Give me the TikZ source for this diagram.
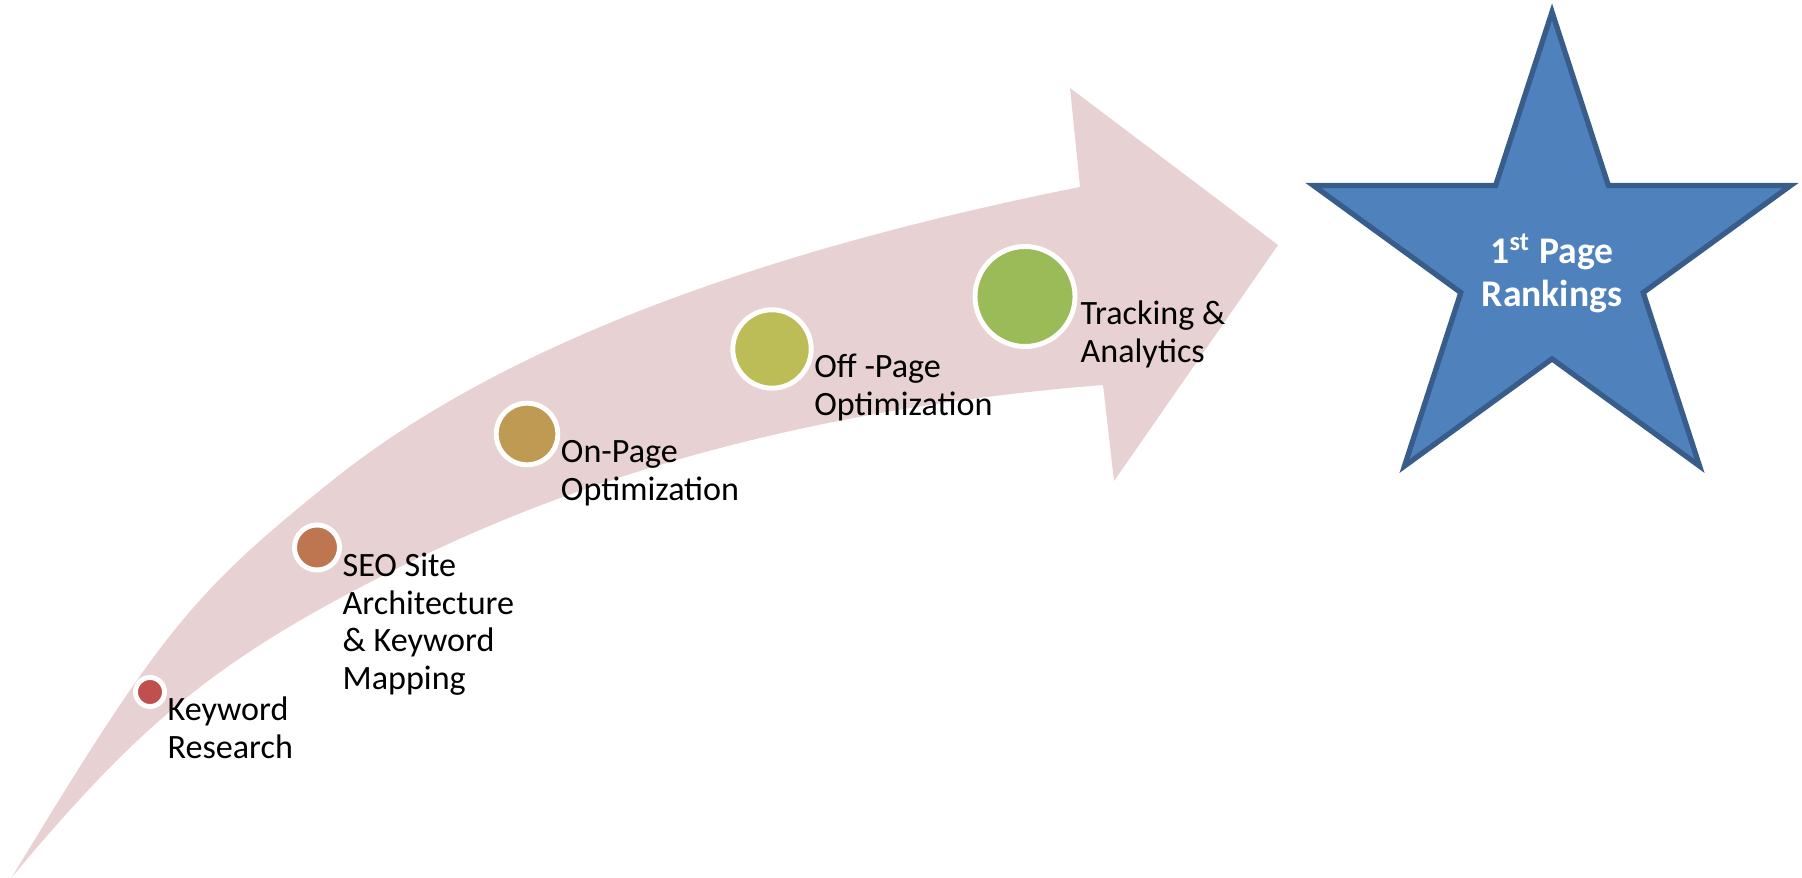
\documentclass[tikz,border=0pt]{standalone}
\usepackage{fontspec}
\setmainfont{Carlito}
\usetikzlibrary{shapes.geometric}
\definecolor{arrowpink}{RGB}{232,209,210}
\definecolor{stepred}{RGB}{192,80,77}
\definecolor{stepbrown}{RGB}{190,118,80}
\definecolor{steptan}{RGB}{191,154,82}
\definecolor{stepolive}{RGB}{189,189,88}
\definecolor{stepgreen}{RGB}{155,187,89}
\definecolor{starblue}{RGB}{79,129,189}
\definecolor{starline}{RGB}{56,93,138}
\begin{document}
\begin{tikzpicture}[
  dot/.style={circle, draw=white, line width=1.4pt, inner sep=0pt},
  steptext/.style={anchor=base west, inner sep=0pt, text width=2.4cm, align=flush left,
    font=\fontsize{9.7}{10.7}\selectfont},
  goal/.style={star, star points=5, star point ratio=2.618, minimum size=5.02cm,
    fill=starblue, draw=starline, line width=1.5pt, inner sep=0pt, text=white,
    text width=0pt, align=flush center, font=\bfseries\fontsize{10.7}{12.2}\selectfont}]
  \useasboundingbox (0,0) rectangle (18.02,8.78);
  % the curved arrow
  \fill[arrowpink] (0.12,0.01) .. controls (1.605,2.46) and (1.926,2.855) .. (3.33,3.98)
    .. controls (4.926,5.257) and (7.414,6.233) .. (10.80,6.91)
    -- (10.70,7.90) -- (12.78,6.33) -- (11.14,3.97) -- (11.03,4.93)
    .. controls (8.339,4.715) and (5.998,4.109) .. (4.00,3.11)
    .. controls (2.222,2.221) and (1.446,1.601) .. cycle;
  % steps
  \node[dot, fill=stepred, minimum size=0.29cm] (kw) at (1.50,1.86) {};
  \node[dot, fill=stepbrown, minimum size=0.45cm] (seo) at (3.17,3.305) {};
  \node[dot, fill=steptan, minimum size=0.616cm] (onpage) at (5.27,4.44) {};
  \node[dot, fill=stepolive, minimum size=0.784cm] (offpage) at (7.72,5.29) {};
  \node[dot, fill=stepgreen, minimum size=1.0cm] (track) at (10.25,5.815) {};
  \node[steptext] (kwtext) at ([yshift=-0.29cm]kw.east) {Keyword\\Research};
  \node[steptext] (seotext) at ([yshift=-0.29cm]seo.east) {SEO Site\\Architecture\\\& Keyword\\Mapping};
  \node[steptext] (onpagetext) at ([yshift=-0.29cm]onpage.east) {On-Page\\Optimization};
  \node[steptext] (offpagetext) at ([yshift=-0.29cm]offpage.east) {Off -Page\\Optimization};
  \node[steptext] (tracktext) at ([shift={(0.025,-0.285)}]track.east) {Tracking \&\\Analytics};
  % goal
  \node[goal, text height=0.1cm, text depth=0.08cm] (rank) at (15.52,6.15)
    {\makebox[0pt]{1\textsuperscript{st} Page}\\\makebox[0pt]{Rankings}};
\end{tikzpicture}
\end{document}
